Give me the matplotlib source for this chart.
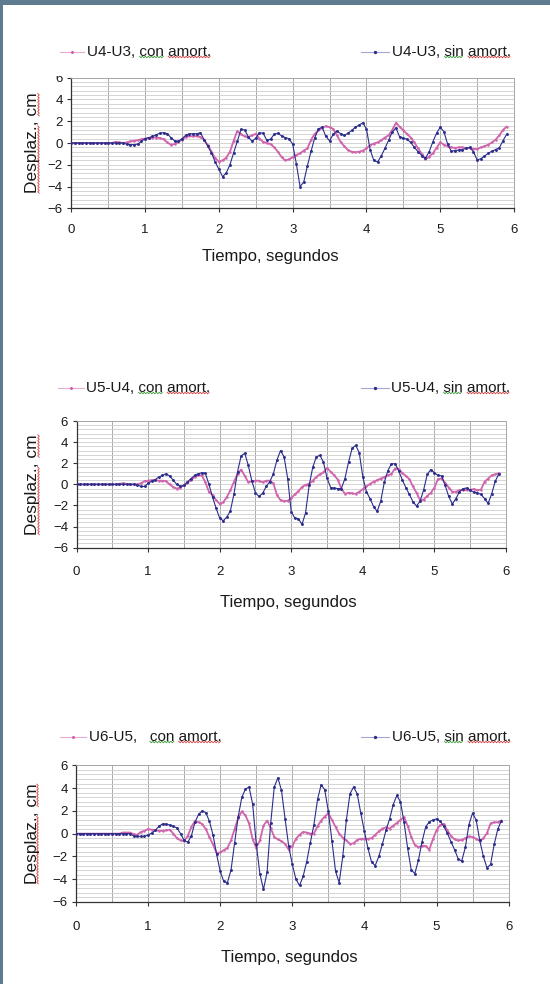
import numpy as np
import matplotlib
matplotlib.use("Agg")
import matplotlib.pyplot as plt
from matplotlib.lines import Line2D
from matplotlib.patches import Rectangle
from matplotlib.transforms import Bbox, TransformedBbox

plt.rcParams['font.family'] = ['Liberation Sans', 'DejaVu Sans']

W, H = 550, 984
DT = 0.05  # sample step (s)

# ---------------- data (cm) sampled every 0.05 s from 0 s ----------------
u4u3_con = [0, 0, 0, 0, 0, 0, 0, 0, 0, 0,
            0, 0, 0.1, 0.05, 0, 0.05, 0.15, 0.2, 0.25, 0.35,
            0.4, 0.45, 0.5, 0.5, 0.45, 0.35, 0.05, -0.15, -0.1, 0.1,
            0.3, 0.55, 0.65, 0.6, 0.65, 0.55, 0.3, -0.2, -0.8, -1.4,
            -1.7, -1.6, -1.35, -0.8, 0.2, 1.1, 0.8, 0.6, 0.55, 0.7,
            0.85, 0.4, 0.1, 0.0, -0.1, -0.4, -0.8, -1.3, -1.6, -1.5,
            -1.3, -1.1, -0.95, -0.7, -0.5, 0.3, 0.85, 1.15, 1.4, 1.55,
            1.45, 1.3, 0.7, 0.1, -0.3, -0.65, -0.8, -0.85, -0.8, -0.7,
            -0.5, -0.2, -0.05, 0.05, 0.25, 0.5, 0.7, 1.2, 1.85, 1.5,
            1.15, 0.85, 0.5, 0.05, -0.5, -1.0, -1.5, -1.25, -0.95, -0.45,
            0.05, -0.15, -0.3, -0.4, -0.45, -0.4, -0.4, -0.45, -0.45, -0.55,
            -0.55, -0.4, -0.3, -0.15, 0.05, 0.3, 0.7, 1.2, 1.5]
u4u3_sin = [0, 0, 0, 0, 0, 0, 0, 0, 0, 0,
            0, 0, 0, 0, 0, -0.1, -0.15, -0.15, -0.1, 0.15,
            0.4, 0.5, 0.6, 0.75, 0.9, 0.95, 0.85, 0.5, 0.2, 0.15,
            0.4, 0.7, 0.85, 0.85, 0.85, 0.95, 0.3, -0.3, -0.9, -1.75,
            -2.4, -3.1, -2.75, -2.0, -0.9, 0.15, 1.25, 1.2, 0.55, 0.15,
            0.45, 0.95, 0.9, 0.25, 0.35, 0.8, 0.9, 0.65, 0.5, 0.4,
            -0.1, -1.9, -4.0, -3.6, -2.1, -0.75, 0.5, 1.3, 1.45, 0.6,
            0.2, 0.8, 1.1, 0.85, 0.7, 0.9, 1.15, 1.45, 1.65, 1.85,
            1.3, -0.6, -1.6, -1.75, -1.2, -0.5, 0.25, 1.0, 1.4, 0.55,
            0.45, 0.35, 0.05, -0.4, -0.8, -1.15, -1.4, -0.8, 0.1, 0.9,
            1.45, 1.05, -0.1, -0.75, -0.7, -0.65, -0.6, -0.5, -0.4, -0.8,
            -1.55, -1.45, -1.2, -0.95, -0.75, -0.6, -0.45, 0.2, 0.8]
u5u4_con = [0, 0, 0, 0, 0, 0, 0, 0, 0, 0,
            0, 0, 0.05, 0.1, 0.05, 0, 0, 0, 0.1, 0.3,
            0.35, 0.4, 0.4, 0.35, 0.35, 0.3, 0.0, -0.25, -0.4, -0.3,
            -0.1, 0.15, 0.4, 0.7, 0.85, 0.85, 0.2, -0.7, -1.0, -1.5,
            -1.85, -1.7, -1.2, -0.55, 0.25, 1.0, 1.4, 0.8, 0.2, 0.3,
            0.35, 0.35, 0.2, 0.35, 0.35, 0.1, -1.0, -1.5, -1.6, -1.55,
            -1.3, -0.95, -0.65, -0.25, -0.05, 0.05, 0.35, 0.7, 0.95, 1.15,
            1.55, 1.2, 0.85, 0.45, -0.4, -0.9, -0.8, -0.85, -0.9, -0.7,
            -0.45, -0.2, 0.05, 0.25, 0.4, 0.55, 0.7, 0.85, 1.0, 1.5,
            1.45, 1.1, 0.8, 0.5, -0.2, -0.8, -1.5, -1.45, -1.1, -0.8,
            -0.3, 0.5, 0.55, 0.15, -0.3, -0.7, -0.7, -0.55, -0.55, -0.55,
            -0.5, -0.45, -0.55, -0.5, 0.25, 0.55, 0.85, 0.95, 1.05]
u5u4_sin = [0, 0, 0, 0, 0, 0, 0, 0, 0, 0,
            0, 0, 0, 0, 0, 0, 0, -0.05, -0.2, -0.2,
            0.1, 0.3, 0.45, 0.7, 0.85, 1.0, 0.8, 0.4, 0.0, -0.2,
            -0.1, 0.25, 0.55, 0.85, 1.0, 1.1, 1.05, 0.0, -1.2, -2.25,
            -3.2, -3.45, -3.1, -2.5, -0.9, 1.2, 2.7, 2.95, 1.8, 0.3,
            -0.8, -1.15, -0.85, -0.2, 0.25, 1.0, 2.3, 3.2, 2.6, 0.55,
            -2.6, -3.2, -3.25, -3.8, -2.7, -0.1, 1.6, 2.6, 2.75, 2.1,
            0.6, -0.3, -0.35, -0.4, -0.4, 0.55, 2.1, 3.4, 3.7, 3.0,
            0.7, -0.7, -1.35, -2.1, -2.55, -1.6, 0.2, 1.3, 1.95, 1.95,
            1.3, 0.45, -0.3, -0.95, -1.65, -2.05, -1.6, -0.5, 0.95, 1.4,
            1.1, 0.85, 0.8, -0.1, -1.15, -1.85, -1.35, -0.7, -0.4, -0.35,
            -0.55, -0.75, -0.8, -0.95, -1.35, -1.8, -0.9, 0.3, 1.0]
u6u5_con = [0, 0, 0, 0, 0, 0, 0, 0, 0, 0,
            0, 0, 0, 0.1, 0.1, 0.1, -0.05, -0.1, 0.15, 0.25,
            0.4, 0.35, 0.3, 0.25, 0.25, 0.3, 0.35, 0.0, -0.4, -0.6,
            -0.65, -0.2, 0.6, 1.1, 1.0, 0.85, 0.4, -0.3, -0.95, -1.7,
            -1.65, -1.45, -1.25, -0.6, 0.4, 1.4, 1.95, 1.6, 0.9, -0.5,
            -1.25, -0.6, 0.7, 1.15, 0.5, -0.3, -0.5, -0.65, -0.9, -1.4,
            -1.1, -0.45, -0.1, 0.15, 0.1, 0.0, 0.0, 0.65, 1.15, 1.5,
            1.8, 1.2, 0.6, 0.0, -0.35, -0.6, -0.9, -0.85, -0.55, -0.45,
            -0.45, -0.45, -0.4, -0.1, 0.2, 0.45, 0.55, 0.45, 0.7, 0.95,
            1.2, 1.45, 0.7, -0.3, -1.0, -1.2, -1.05, -1.1, -1.4, -0.5,
            0.3, 0.75, 0.85, 0.3, -0.2, -0.5, -0.6, -0.55, -0.4, -0.25,
            -0.3, -0.45, -0.65, -0.4, 0.05, 0.9, 1.0, 1.0, 1.15]
u6u5_sin = [0, 0, 0, 0, 0, 0, 0, 0, 0, 0,
            0, 0, 0, 0, 0, 0, -0.2, -0.25, -0.25, -0.25,
            -0.1, 0.05, 0.3, 0.65, 0.85, 0.85, 0.75, 0.65, 0.5, 0.0,
            -0.6, -0.75, -0.2, 1.0, 1.7, 2.0, 1.85, 1.1, -0.1, -1.8,
            -3.3, -4.2, -4.3, -3.2, -0.8, 1.5, 3.2, 3.9, 4.1, 2.6,
            -0.9, -3.5, -4.9, -3.4, 0.9, 4.1, 4.9, 3.8, 1.3, -1.1,
            -2.7, -4.0, -4.55, -3.75, -2.45, -0.8, 0.8, 3.0, 4.3, 3.85,
            1.95, -0.65, -3.3, -4.3, -2.0, 1.2, 3.5, 4.1, 3.5, 1.8,
            0.2, -1.3, -2.5, -2.8, -2.0, -0.9, 0.3, 1.3, 2.55, 3.35,
            2.8, 1.0, -1.3, -3.2, -3.5, -2.3, -0.7, 0.6, 1.05, 1.2,
            1.3, 1.1, 0.65, 0.05, -0.7, -1.4, -2.2, -2.4, -1.2, 0.8,
            1.8, 1.2, -0.6, -2.0, -3.0, -2.7, -0.95, 0.4, 1.15]

con_labels = ["U4-U3, con amort.", "U5-U4, con amort.", "U6-U5,   con amort."]
sin_labels = ["U4-U3, sin amort.", "U5-U4, sin amort.", "U6-U5, sin amort."]
x_ticks = [0, 1, 2, 3, 4, 5, 6]
y_ticks = [-6, -4, -2, 0, 2, 4, 6]
x_title = "Tiempo, segundos"
y_title = "Desplaz., cm"

series = [(u4u3_con, u4u3_sin), (u5u4_con, u5u4_sin), (u6u5_con, u6u5_sin)]

# ---------------- layout (pixels, y measured from top) ----------------
layout = [
    dict(ax=(71.3, 77.7, 514.0, 208.3), leg_y=52, lline=(60, 84), ltext=87,
         rline=(361, 389), rtext=392, xpad=8.0, xlab=(270, 257), ylab_x=33),
    dict(ax=(76.5, 421.0, 506.0, 547.7), leg_y=388, lline=(58, 84), ltext=86,
         rline=(361, 389), rtext=391, xpad=10.5, xlab=(288, 603), ylab_x=33),
    dict(ax=(76.0, 765.3, 508.6, 902.0), leg_y=737, lline=(60, 86), ltext=89,
         rline=(361, 389), rtext=392, xpad=10.5, xlab=(289, 957.5), ylab_x=32),
]

PINK = '#d064ac'
BLUE = '#2b2d8c'
PINK_L = '#e8aad4'
BLUE_L = '#a4a4d8'
FRAME = '#5f7b90'
GREEN_SQ = '#3c9a3c'
RED_SQ = '#d84040'
TXT = '#1a1a1a'

fig = plt.figure(figsize=(W / 100, H / 100), dpi=100)
fig.patch.set_facecolor('white')

# slide frame
fig.add_artist(Rectangle((0, 1 - 5 / H), 1, 5 / H, transform=fig.transFigure,
                         facecolor=FRAME, edgecolor='none', zorder=10))
fig.add_artist(Rectangle((0, 0), 3 / W, 1, transform=fig.transFigure,
                         facecolor=FRAME, edgecolor='none', zorder=10))


def fx(px):
    return px / W


def fy(py):
    return 1 - py / H


renderer = fig.canvas.get_renderer()


def width_of(s, size):
    t = fig.text(0, 0, s, fontsize=size)
    w = t.get_window_extent(renderer).width
    t.remove()
    return w


def squiggle_h(x0, x1, y, color):
    xs = np.arange(x0, x1 + 0.01, 1.5)
    ys = y + np.where(np.arange(len(xs)) % 2 == 0, 0.8, -0.8)
    fig.add_artist(Line2D(xs / W, ys / H, transform=fig.transFigure,
                          color=color, lw=0.6))


def squiggle_v(x, y0, y1, color):
    ys = np.arange(y0, y1 + 0.01, 1.5)
    xs = x + np.where(np.arange(len(ys)) % 2 == 0, 0.8, -0.8)
    fig.add_artist(Line2D(xs / W, ys / H, transform=fig.transFigure,
                          color=color, lw=0.6))


LEG_FS = 11
for k, (lay, (con, sin)) in enumerate(zip(layout, series)):
    x0, ytop, x1, ybot = lay['ax']
    ax = fig.add_axes([fx(x0), fy(ybot), fx(x1) - fx(x0), (ybot - ytop) / H])
    t_con = np.arange(len(con)) * DT
    t_sin = np.arange(len(sin)) * DT
    ax.plot(t_con, con, color=PINK, lw=1.3, marker='o', ms=1.8, mew=0, zorder=3)
    ax.plot(t_sin, sin, color=BLUE, lw=0.8, marker='o', ms=2.1, mew=0, zorder=4)
    ax.set_xlim(0, 6)
    ax.set_ylim(-6, 6)
    ax.set_xticks(x_ticks)
    ax.set_yticks(y_ticks)
    ax.set_xticks(np.arange(0, 6.01, 0.5), minor=True)
    ax.set_yticks(np.arange(-6, 6.01, 0.4), minor=True)
    ax.grid(which='both', axis='y', color='#cdcdcd', lw=0.6, zorder=0)
    ax.grid(which='both', axis='x', color='#9c9c9c', lw=0.6, zorder=0)
    ax.set_axisbelow(True)
    ax.tick_params(which='minor', length=0)
    ax.tick_params(axis='x', which='major', direction='out', length=3, width=0.8,
                   pad=lay['xpad'], labelsize=9.5, color='#333333', labelcolor=TXT)
    ax.tick_params(axis='y', which='major', direction='out', length=3, width=0.8,
                   pad=3, labelsize=9.5, color='#333333', labelcolor=TXT)
    for side in ('left', 'bottom'):
        ax.spines[side].set_color('#333333')
        ax.spines[side].set_linewidth(0.9)
    for side in ('top', 'right'):
        ax.spines[side].set_color('#a6a6a6')
        ax.spines[side].set_linewidth(0.7)

    if k == 0:
        # the top "6" label of the first chart is cut off in the screenshot
        fig.canvas.draw()
        clip = TransformedBbox(Bbox([[0, 0], [1, fy(76)]]), fig.transFigure)
        for lbl in ax.get_yticklabels():
            lbl.set_clip_box(clip)
            lbl.set_clip_on(True)

    # legend (two entries, drawn manually at the reference positions)
    ly = fy(lay['leg_y'])
    la, lb = lay['lline']
    fig.add_artist(Line2D([fx(la), fx(lb)], [ly, ly], transform=fig.transFigure,
                          color=PINK_L, lw=0.8))
    fig.add_artist(Line2D([fx((la + lb) / 2)], [ly], transform=fig.transFigure,
                          color=PINK, marker='o', ms=2.2, mew=0, ls='none'))
    ra, rb = lay['rline']
    fig.add_artist(Line2D([fx(ra), fx(rb)], [ly, ly], transform=fig.transFigure,
                          color=BLUE_L, lw=0.8))
    fig.add_artist(Line2D([fx((ra + rb) / 2)], [ly], transform=fig.transFigure,
                          color=BLUE, marker='o', ms=2.4, mew=0, ls='none'))
    tl = fig.text(fx(lay['ltext']), ly, con_labels[k], fontsize=LEG_FS,
                  ha='left', va='center', color=TXT)
    tr = fig.text(fx(lay['rtext']), ly, sin_labels[k], fontsize=LEG_FS,
                  ha='left', va='center', color=TXT)

    # spell-check underlines as in the screenshot
    for tobj, lab, words in ((tl, con_labels[k], (('con', GREEN_SQ), ('amort.', RED_SQ))),
                             (tr, sin_labels[k], (('sin', GREEN_SQ), ('amort.', RED_SQ)))):
        bb = tobj.get_window_extent(renderer)
        base = bb.y0 + 2.0
        for word, col in words:
            end_idx = lab.index(word) + len(word)
            xe = bb.x0 + width_of(lab[:end_idx], LEG_FS)
            xs_ = xe - width_of(word, LEG_FS)
            squiggle_h(xs_, xe, base, col)

    # axis titles
    fig.text(fx(lay['xlab'][0]), fy(lay['xlab'][1]), x_title, fontsize=12,
             ha='center', va='center', color=TXT)
    yl_y = fy((ytop + ybot) / 2)
    yt = fig.text(fx(lay['ylab_x']), yl_y, y_title, fontsize=12.5, rotation=90,
                  ha='center', va='center', color=TXT)
    bb = yt.get_window_extent(renderer)
    sx = bb.x1 - 2.0
    w1 = width_of("Desplaz.", 12.5)
    wall = width_of(y_title, 12.5)
    wcm = width_of("cm", 12.5)
    squiggle_v(sx, bb.y0, bb.y0 + w1, RED_SQ)
    squiggle_v(sx, bb.y0 + wall - wcm, bb.y0 + wall, RED_SQ)

fig.savefig("out.png", dpi=100, facecolor='white')
